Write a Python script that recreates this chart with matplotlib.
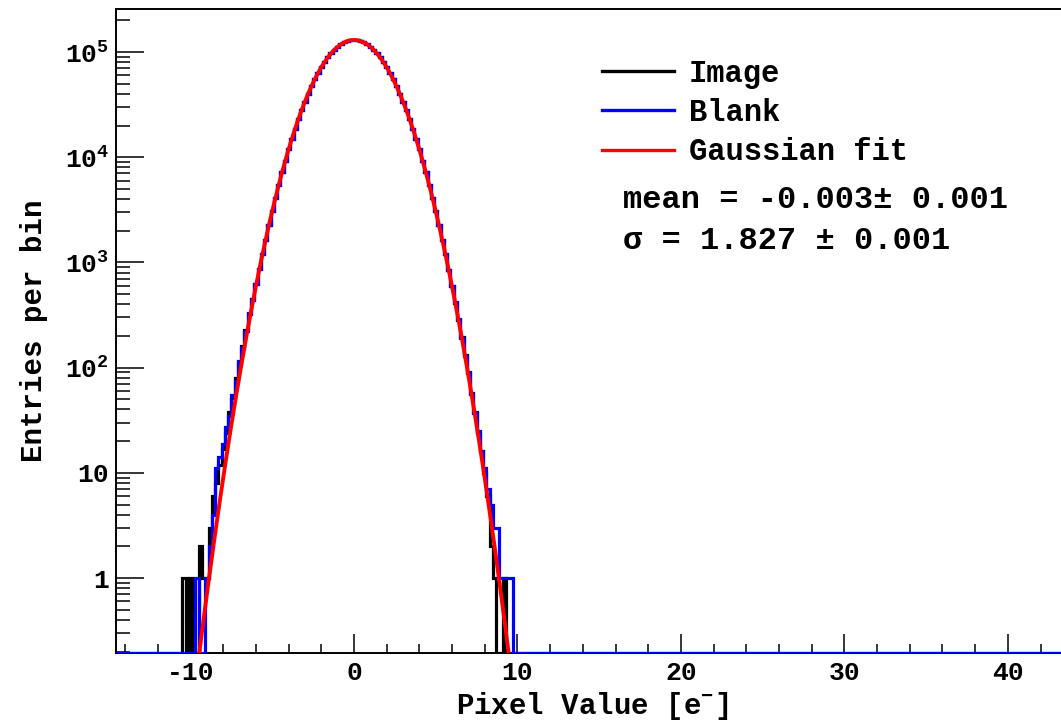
import numpy as np
import matplotlib
matplotlib.use('Agg')
import matplotlib.pyplot as plt
from matplotlib.ticker import FixedLocator, MultipleLocator, LogLocator, NullFormatter

# ------------------------------------
# Datos
# ------------------------------------
bin_lo = -10.5
bin_w = 0.2

# cola izquierda (x = -10.4 ... -5.6)
left_image = [1, 0, 1, 0, 0, 2, 1, 1, 3, 6, 8, 12, 17, 24, 38, 52, 80, 110,
              160, 230, 320, 450, 620, 870, 1210]
left_blank = [0, 0, 0, 0, 1, 0, 0, 1, 2, 4, 11, 14, 19, 27, 35, 55, 75, 115,
              155, 225, 330, 440, 630, 860, 1200]

# nucleo (x = -5.4 ... 5.4)
core = [1650, 2270, 3080, 4130, 5470, 7160, 9260, 11840, 14950, 18660, 23010,
        28040, 33770, 40170, 47230, 54860, 62960, 71400, 80020, 88600, 96930,
        104780, 111920, 118110, 123180, 126920, 129220, 130000,
        129220, 126920, 123180, 118110, 111920, 104780, 96930, 88600, 80020,
        71400, 62960, 54860, 47230, 40170, 33770, 28040, 23010, 18660, 14950,
        11840, 9260, 7160, 5470, 4130, 3080, 2270, 1650]

# cola derecha (x = 5.6 ... 10.4)
right_image = [1190, 850, 600, 415, 285, 195, 132, 88, 58, 38, 24, 16, 10, 6,
               2, 1, 0, 0, 1, 0, 0, 0, 0, 0, 0]
right_blank = [1200, 845, 595, 420, 290, 192, 130, 90, 56, 37, 25, 16, 11, 7,
               5, 3, 3, 1, 1, 1, 1, 0, 0, 0, 0]

image_counts = np.array(left_image + core + right_image, dtype=float)
blank_counts = np.array(left_blank + core + right_blank, dtype=float)

# ajuste gaussiano
fit_amp = 1.3e5
fit_mean = -0.003
fit_sigma = 1.827

x_lim = (-14.56, 43.25)
y_lim = (0.194, 2.56e5)

# ------------------------------------
# Estilo
# ------------------------------------
plt.rcParams['font.family'] = ['Liberation Mono', 'DejaVu Sans']
plt.rcParams['font.weight'] = 'bold'
plt.rcParams['mathtext.fontset'] = 'custom'
plt.rcParams['mathtext.rm'] = 'Liberation Mono:bold'
plt.rcParams['mathtext.bf'] = 'Liberation Mono:bold'
plt.rcParams['mathtext.it'] = 'Liberation Mono:bold'
plt.rcParams['mathtext.default'] = 'rm'

fig = plt.figure(figsize=(10.61, 7.22), dpi=100)
ax = fig.add_axes([116 / 1061, 69 / 722, 1 - 116 / 1061, 644 / 722])

edges = bin_lo + bin_w * np.arange(len(core) + 51)
full_edges = np.concatenate([[x_lim[0] - 1], edges, [x_lim[1] + 1]])


def padded(counts):
    vals = np.where(counts > 0, counts, y_lim[0])
    return np.concatenate([[y_lim[0]], vals, [y_lim[0]]])


ax.stairs(padded(image_counts), full_edges, baseline=None, color='black',
          linewidth=2.3, label='Image', zorder=3)
ax.stairs(padded(blank_counts), full_edges, baseline=None, color='#0000ff',
          linewidth=2.3, label='Blank', zorder=4)

xf = np.linspace(-10.5, 10.5, 800)
yf = fit_amp * np.exp(-(xf - fit_mean) ** 2 / (2 * fit_sigma ** 2))
ax.plot(xf, yf, color='#ff0000', linewidth=2.8, label='Gaussian fit', zorder=5)

ax.set_yscale('log')
ax.set_xlim(*x_lim)
ax.set_ylim(*y_lim)

ax.xaxis.set_major_locator(FixedLocator([-10, 0, 10, 20, 30, 40]))
ax.xaxis.set_minor_locator(MultipleLocator(2))
ax.set_xticklabels(['-10', '0', '10', '20', '30', '40'])

yt = [1, 10, 100, 1e3, 1e4, 1e5]
ax.yaxis.set_major_locator(FixedLocator(yt))
ax.set_yticklabels(['1', '10', '$10^{2}$', '$10^{3}$', '$10^{4}$', '$10^{5}$'])
ax.yaxis.set_minor_locator(LogLocator(base=10, subs=np.arange(2, 10), numticks=20))
ax.yaxis.set_minor_formatter(NullFormatter())

ax.tick_params(axis='x', which='major', direction='in', length=14, width=1.1,
               labelsize=19, pad=6, top=False)
ax.tick_params(axis='x', which='minor', direction='in', length=6.5, width=1.1,
               top=False)
ax.tick_params(axis='y', which='major', direction='in', length=20, width=1.1,
               labelsize=19, pad=5, right=False)
ax.tick_params(axis='y', which='minor', direction='in', length=10, width=1.1,
               right=False)

for s in ['left', 'bottom', 'top']:
    ax.spines[s].set_linewidth(1.4)
ax.spines['right'].set_visible(False)

ax.set_xlabel('Pixel Value [e$^{-}$]', fontsize=21, fontweight='bold')
ax.xaxis.set_label_coords(0.504, -0.058)
ax.set_ylabel('Entries per bin', fontsize=21, fontweight='bold')
ax.yaxis.set_label_coords(-0.072, 0.5)

leg = ax.legend(loc='upper left', bbox_to_anchor=(602 / 1061, 1 - 59 / 722),
                bbox_transform=fig.transFigure, frameon=False, fontsize=22,
                handlelength=2.35, handletextpad=0.5, labelspacing=0.3,
                borderpad=0, borderaxespad=0)
for h in leg.get_lines():
    h.set_linewidth(2.4)

fig.text(623 / 1061, 1 - 200 / 722, 'mean = -0.003\u00b1 0.001', fontsize=23,
         fontweight='bold', va='center', ha='left')
fig.text(623 / 1061, 1 - 241 / 722, '\u03c3 = 1.827 \u00b1 0.001', fontsize=23,
         fontweight='bold', va='center', ha='left')

fig.savefig('out.png', dpi=100)
